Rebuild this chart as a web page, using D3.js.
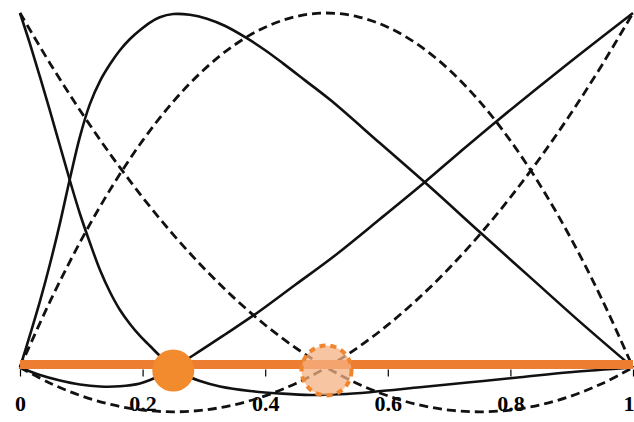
<!DOCTYPE html>
<html>
<head>
<meta charset="utf-8">
<script src="https://cdn.jsdelivr.net/npm/d3@7"></script>
<style>
  html, body { margin: 0; padding: 0; background: #ffffff; }
  svg { display: block; }
</style>
</head>
<body>
<svg id="chart" width="634" height="422"></svg>
<script>
// ---- data ----
const tickValues = [0, 0.2, 0.4, 0.6, 0.8, 1];
const tickLabels = ["0", "0.2", "0.4", "0.6", "0.8", "1"];

// dashed curves (sampled at x = 0, 0.05, ..., 1)
const dashX  = [0,0.05,0.1,0.15,0.2,0.25,0.3,0.35,0.4,0.45,0.5,0.55,0.6,0.65,0.7,0.75,0.8,0.85,0.9,0.95,1];
const dash0  = [1,0.855,0.72,0.595,0.48,0.375,0.28,0.195,0.12,0.055,0,-0.045,-0.08,-0.105,-0.12,-0.125,-0.12,-0.105,-0.08,-0.045,0];
const dash1  = [0,0.19,0.36,0.51,0.64,0.75,0.84,0.91,0.96,0.99,1,0.99,0.96,0.91,0.84,0.75,0.64,0.51,0.36,0.19,0];
const dash2  = [0,-0.045,-0.08,-0.105,-0.12,-0.125,-0.12,-0.105,-0.08,-0.045,0,0.055,0.12,0.195,0.28,0.375,0.48,0.595,0.72,0.855,1];

// solid curves: [x, y] points
const solid0 = [[0,1],[0.0163,0.9126],[0.0326,0.8195],[0.0489,0.7236],[0.0653,0.6248],[0.0816,0.5261],
  [0.0979,0.433],[0.1142,0.3512],[0.1305,0.275],[0.1468,0.213],[0.1631,0.1622],[0.1794,0.1227],
  [0.1958,0.0889],[0.2121,0.0606],[0.2284,0.0324],[0.25,0],[0.2692,-0.0212],[0.2936,-0.0381],
  [0.3263,-0.0536],[0.3752,-0.0663],[0.4241,-0.0733],[0.4731,-0.0776],[0.522,-0.0756],[0.571,-0.0697],
  [0.6525,-0.0559],[0.7341,-0.0417],[0.8157,-0.0276],[0.8972,-0.0135],[1,0]];
const solid1 = [[0,0],[0.0163,0.0917],[0.0326,0.187],[0.0489,0.292],[0.0653,0.408],[0.0816,0.534],
  [0.0979,0.652],[0.114,0.743],[0.1305,0.808],[0.147,0.856],[0.163,0.895],[0.179,0.926],[0.196,0.952],
  [0.212,0.973],[0.228,0.988],[0.25,0.997],[0.277,0.995],[0.305,0.984],[0.334,0.964],[0.37,0.929],
  [0.4,0.895],[0.429,0.858],[0.465,0.81],[0.506,0.755],[0.587,0.633],[0.669,0.509],[0.75,0.382],
  [0.832,0.255],[0.914,0.128],[1,0]];
const solid2 = [[0,0],[0.0326,-0.0212],[0.0653,-0.0367],[0.0979,-0.048],[0.1305,-0.0536],[0.1631,-0.053],
  [0.1958,-0.0451],[0.2121,-0.0353],[0.2284,-0.0226],[0.25,0],[0.2822,0.0339],[0.3344,0.0931],
  [0.3866,0.1537],[0.4486,0.2327],[0.5106,0.3117],[0.5873,0.4189],[0.6607,0.5233],[0.7178,0.6079],
  [0.7781,0.6954],[0.8891,0.8505],[1,1]];

// orange markers
const segment = [0, 1];
const filledNode = 0.25;
const dashedNode = 0.5;

// ---- drawing ----
const svg = d3.select("#chart");
const x = d3.scaleLinear().domain([0, 1]).range([20, 633]);
const y = d3.scaleLinear().domain([0, 1]).range([367.5, 13]);

const line = d3.line().x(d => x(d[0])).y(d => y(d[1])).curve(d3.curveCatmullRom.alpha(0.5));

// axis ticks (no domain line)
const axis = d3.axisBottom(x)
  .tickValues(tickValues)
  .tickFormat((d, i) => tickLabels[i])
  .tickSize(7)
  .tickPadding(19);
const gAxis = svg.append("g").attr("transform", "translate(0,369.5)").call(axis);
gAxis.select(".domain").remove();
gAxis.selectAll(".tick line").attr("stroke", "#000").attr("stroke-width", 1.2);
gAxis.selectAll(".tick text")
  .attr("fill", "#000")
  .style("font-family", "'Liberation Serif', 'DejaVu Serif', serif")
  .style("font-weight", "bold")
  .style("font-size", "22px");
gAxis.selectAll(".tick text").filter(d => d === 1)
  .attr("text-anchor", "end").attr("x", 1);

// dashed curves
[dash0, dash1, dash2].forEach(vals => {
  svg.append("path")
    .datum(dashX.map((xv, i) => [xv, vals[i]]))
    .attr("d", line)
    .attr("fill", "none")
    .attr("stroke", "#111")
    .attr("stroke-width", 2.8)
    .attr("stroke-dasharray", "9,5");
});

// solid curves
[solid0, solid1, solid2].forEach(pts => {
  svg.append("path")
    .datum(pts)
    .attr("d", line)
    .attr("fill", "none")
    .attr("stroke", "#111")
    .attr("stroke-width", 2.6);
});

// orange segment
svg.append("line")
  .attr("x1", x(segment[0])).attr("x2", x(segment[1]))
  .attr("y1", y(0) - 3).attr("y2", y(0) - 3)
  .attr("stroke", "#ED7D31")
  .attr("stroke-width", 9);

// filled node
svg.append("circle")
  .attr("cx", x(filledNode)).attr("cy", y(0) + 3)
  .attr("r", 21)
  .attr("fill", "#F28A2E");

// dashed node
svg.append("circle")
  .attr("cx", x(dashedNode)).attr("cy", y(0) + 3)
  .attr("r", 25)
  .attr("fill", "#F5B183")
  .attr("fill-opacity", 0.75)
  .attr("stroke", "#F0852F")
  .attr("stroke-width", 4)
  .attr("stroke-dasharray", "6,5");
</script>
</body>
</html>
